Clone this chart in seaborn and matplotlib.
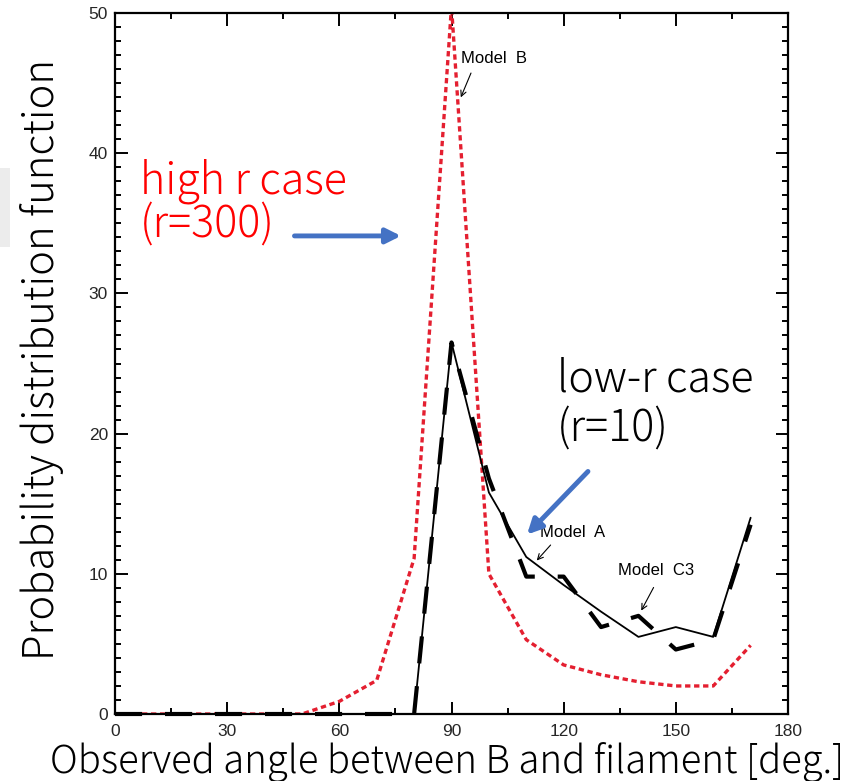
import matplotlib
matplotlib.use("Agg")
import matplotlib.pyplot as plt
import seaborn as sns
import pandas as pd
import numpy as np
from matplotlib.patches import Rectangle
from matplotlib.ticker import MultipleLocator

# ---------------- data ----------------
angle = [0, 10, 20, 30, 40, 50, 60, 70, 80, 90, 100, 110, 120, 130, 140, 150, 160, 170]
model_b = [0, 0, 0, 0, 0, 0, 0.9, 2.4, 11.1, 50.5, 10.0, 5.3, 3.5, 2.8, 2.3, 2.0, 2.0, 4.9]
model_a = [0, 0, 0, 0, 0, 0, 0, 0, 0, 26.5, 15.8, 11.2, 9.2, 7.3, 5.5, 6.2, 5.5, 14.0]
model_c3 = [0, 0, 0, 0, 0, 0, 0, 0, 0, 26.5, 16.8, 9.8, 9.8, 6.2, 7.0, 4.6, 5.3, 13.5]
xticks = [0, 30, 60, 90, 120, 150, 180]
yticks = [0, 10, 20, 30, 40, 50]

df = pd.DataFrame({"angle": angle, "B": model_b, "A": model_a, "C3": model_c3})

sns.set_style("ticks")
plt.rcParams['font.family'] = ['Noto Sans CJK JP', 'DejaVu Sans']

fig = plt.figure(figsize=(8.5, 7.81), dpi=100)
ax = fig.add_axes([115/850, 1-714/781, 673/850, 701/781])

red = "#e41f30"
sns.lineplot(data=df, x="angle", y="B", ax=ax, color=red, lw=2.4,
             linestyle=(0, (1.6, 1.1)), zorder=2, clip_on=True)
sns.lineplot(data=df, x="angle", y="A", ax=ax, color="black", lw=1.3, zorder=3, clip_on=False)
sns.lineplot(data=df, x="angle", y="C3", ax=ax, color="black", lw=3.0,
             linestyle=(0, (6.5, 5.5)), zorder=4, clip_on=False)

ax.set_xlim(0, 180)
ax.set_ylim(0, 50)
ax.set_xticks(xticks, labels=[str(v) for v in xticks])
ax.set_yticks(yticks, labels=[str(v) for v in yticks])
ax.xaxis.set_minor_locator(MultipleLocator(15))
ax.yaxis.set_minor_locator(MultipleLocator(1))
ax.tick_params(which="both", direction="in", top=True, right=True, color="black", width=1.4)
ax.tick_params(which="major", length=9, labelsize=12.5, labelfontfamily="Liberation Sans")
ax.tick_params(which="minor", length=4.5)
ax.tick_params(axis="x", which="major", pad=7)
ax.tick_params(axis="y", which="major", pad=5)
for sp in ax.spines.values():
    sp.set_linewidth(1.6)
    sp.set_color("black")

ax.set_xlabel("")
ax.set_ylabel("")

# small model labels
small = dict(family="Liberation Sans", fontsize=12, color="black")
ax.text(92.5, 46.4, "Model  B", **small)
ax.annotate("", xy=(92.2, 43.8), xytext=(95.5, 45.9),
            arrowprops=dict(arrowstyle="->", lw=0.8, color="black"))
ax.text(113.6, 12.6, "Model  A", **small)
ax.annotate("", xy=(112.3, 10.8), xytext=(117.0, 12.2),
            arrowprops=dict(arrowstyle="->", lw=0.8, color="black"))
ax.text(134.5, 9.9, "Model  C3", **small)
ax.annotate("", xy=(140.4, 7.2), xytext=(144.4, 9.2),
            arrowprops=dict(arrowstyle="->", lw=0.8, color="black"))

# big annotation texts
big = dict(fontsize=31, va="baseline", ha="left", fontweight="light")
ax.text(6.7, 37.16, "high r case", color="#ff0000", **big)
ax.text(6.7, 34.0, "(r=300)", color="#ff0000", **big)
ax.text(118.2, 22.97, "low-r case", color="black", **big)
ax.text(118.2, 19.4, "(r=10)", color="black", **big)

blue = "#4472c4"
ax.annotate("", xy=(76.5, 34.1), xytext=(48.0, 34.1),
            arrowprops=dict(arrowstyle="-|>", lw=3.5, color=blue, mutation_scale=22,
                            shrinkA=0, shrinkB=0))
ax.annotate("", xy=(110.2, 12.8), xytext=(126.5, 17.3),
            arrowprops=dict(arrowstyle="-|>", lw=3.5, color=blue, mutation_scale=22,
                            shrinkA=0, shrinkB=0))

# axis labels
fig.text(42/850, 1-360/781, "Probability distribution function", rotation=90,
         ha="center", va="center", fontsize=30, fontweight="light", color="black")
fig.text(447/850, 1-762/781, "Observed angle between B and filament [deg.]",
         ha="center", va="center", fontsize=27.5, fontweight="light", color="black")

# light gray box at the left edge
fig.patches.append(Rectangle((0, 1-247/781), 10/850, 79/781, transform=fig.transFigure,
                             facecolor="#ececec", edgecolor="none", zorder=0))

fig.savefig("out.png", dpi=100)
